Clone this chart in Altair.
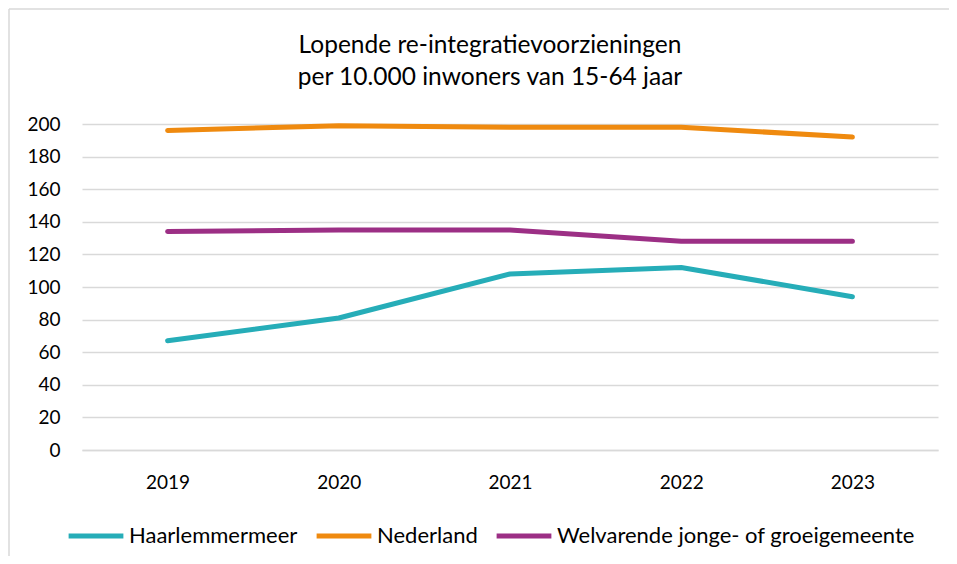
import altair as alt
import pandas as pd

years = ["2019", "2020", "2021", "2022", "2023"]
series_names = ["Haarlemmermeer", "Nederland", "Welvarende jonge- of groeigemeente"]
haarlemmermeer = [67, 81, 108, 112, 94]
nederland = [196, 199, 198, 198, 192]
welvarende = [134, 135, 135, 128, 128]
colors = ["#26adb8", "#ef8a0f", "#9c2f85"]
y_ticks = list(range(0, 201, 20))
title_lines = ["Lopende re-integratievoorzieningen", "per 10.000 inwoners van 15-64 jaar"]

rows = []
for name, vals in zip(series_names, [haarlemmermeer, nederland, welvarende]):
    for yr, v in zip(years, vals):
        rows.append({"Jaar": yr, "Waarde": v, "Reeks": name})
df = pd.DataFrame(rows)

FONT = "Lato"

lines = alt.Chart(df).mark_line(strokeWidth=5, strokeCap="round", strokeJoin="round").encode(
    x=alt.X("Jaar:N", sort=years,
            scale=alt.Scale(type="point", padding=0.5),
            axis=alt.Axis(title=None, labelAngle=0, ticks=False, grid=False,
                          domain=True, domainColor="#d9d9d9", domainWidth=1.5,
                          labelFontSize=19, labelPadding=23, labelColor="#000000",
                          labelFont=FONT)),
    y=alt.Y("Waarde:Q", scale=alt.Scale(domain=[0, 200], nice=False),
            axis=alt.Axis(title=None, values=y_ticks, ticks=False, domain=False,
                          grid=True, gridColor="#d9d9d9", gridWidth=1.5,
                          labelFontSize=19, labelPadding=22, labelColor="#000000",
                          labelFont=FONT)),
    color=alt.Color("Reeks:N", sort=series_names,
                    scale=alt.Scale(domain=series_names, range=colors),
                    legend=alt.Legend(title=None, orient="none", direction="horizontal",
                                      legendX=-16, legendY=382,
                                      symbolType="stroke", symbolStrokeWidth=5,
                                      symbolSize=3000, labelFontSize=22,
                                      labelFont=FONT, labelColor="#000000",
                                      labelOffset=3, columnPadding=8,
                                      labelLimit=600)),
)

title_df = pd.DataFrame({"t": title_lines, "i": [0, 1]})
title1 = alt.Chart(title_df.iloc[[0]]).mark_text(
    font=FONT, fontSize=24.5, color="#000000", align="center", baseline="alphabetic"
).encode(text="t:N", x=alt.value(408), y=alt.value(-71))
title2 = alt.Chart(title_df.iloc[[1]]).mark_text(
    font=FONT, fontSize=24.5, color="#000000", align="center", baseline="alphabetic"
).encode(text="t:N", x=alt.value(408), y=alt.value(-39))

one = pd.DataFrame({"a": [0]})
border = alt.Chart(one).mark_rule(color="#d9d9d9", strokeWidth=1.5).encode(
    x=alt.value(-73), x2=alt.value(-73), y=alt.value(-115), y2=alt.value(440)
)
border_top = alt.Chart(one).mark_rule(color="#d9d9d9", strokeWidth=1.5).encode(
    x=alt.value(-73), x2=alt.value(900), y=alt.value(-115), y2=alt.value(-115)
)

chart = alt.layer(border, border_top, title1, title2, lines).properties(
    width=856,
    height=326,
    padding={"left": 74, "top": 116, "right": 11, "bottom": 106},
    autosize=alt.AutoSizeParams(type="none"),
    background="#ffffff",
).configure_view(stroke="transparent", strokeWidth=0)

chart.save("out.html", embed_options={"renderer": "svg", "actions": False})
